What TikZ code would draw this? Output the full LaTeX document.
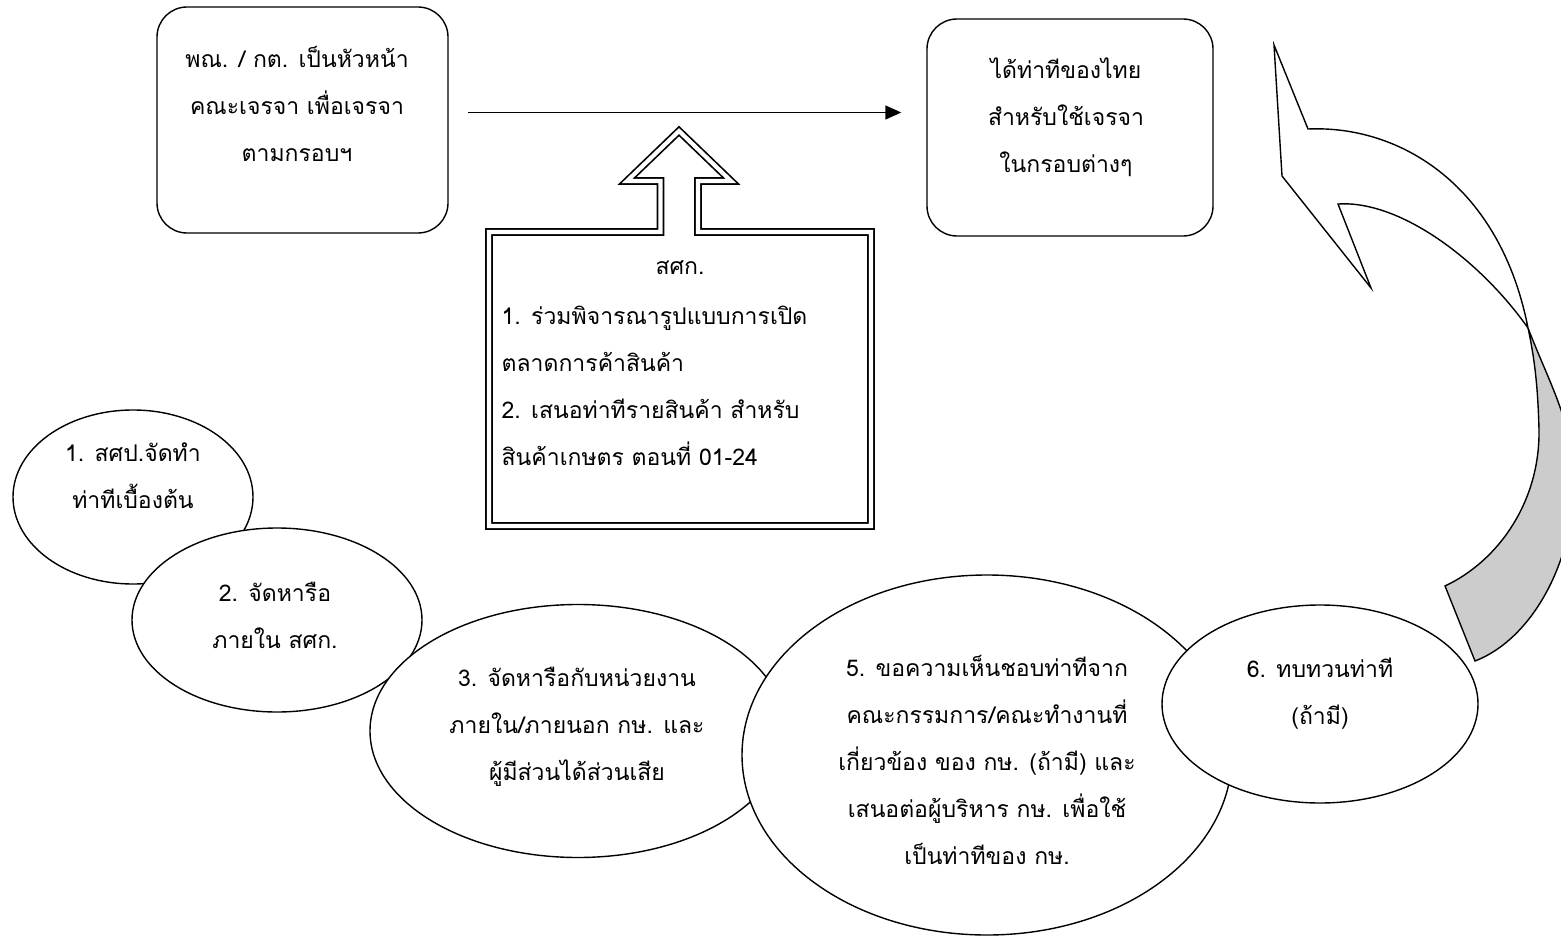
\documentclass[tikz,border=0pt]{standalone}
\usepackage{fontspec}
\newfontfamily\thaifont[Script=Thai]{Loma}
\usetikzlibrary{arrows.meta,shapes.geometric}
\begin{document}
\begin{tikzpicture}[x=1pt,y=-1pt,line width=1.4pt,
  txt/.style={font=\thaifont\fontsize{23}{47}\selectfont,inner sep=0pt,align=center},
  rbox/.style={draw,rounded corners=30pt,inner sep=0pt},
  oval/.style={draw,fill=white,ellipse,inner sep=0pt}]
\useasboundingbox (0,0) rectangle (1561,939);
% top boxes
\node[rbox,minimum width=291pt,minimum height=226pt] (A) at (302.5,120) {};
\node[txt] (At) at (297,104) {พณ. / กต. เป็นหัวหน้า\\คณะเจรจา เพื่อเจรจา\\ตามกรอบฯ};
\node[rbox,minimum width=286pt,minimum height=217pt] (B) at (1070,127.5) {};
\node[txt] (Bt) at (1066,117.5) {ได้ท่าทีของไทย\\สำหรับใช้เจรจา\\ในกรอบต่างๆ};
\coordinate (ly) at (0,112.5);
\draw[-{Triangle[length=16pt,width=14pt]},shorten <=19.5pt,shorten >=25pt] (A.east |- ly) -- (B.west |- ly);
% double box with up arrow
\draw[line width=1.7pt,double=white,double distance=4.2pt,line join=miter]
  (489,232) -- (660.5,232) -- (660.5,181) -- (627,181) -- (679,131) -- (731,181)
  -- (698,181) -- (698,232) -- (871,232) -- (871,526) -- (489,526) -- cycle;
\node[txt] (Ct) at (680,268) {สศก.};
\node[txt,align=left,anchor=west] (Cl) at (501,385.5) {1. ร่วมพิจารณารูปแบบการเปิด\\ตลาดการค้าสินค้า\\2. เสนอท่าทีรายสินค้า สำหรับ\\สินค้าเกษตร ตอนที่ 01-24};
% curved arrow
\begin{scope}
\clip (0,0) rectangle (1561,939);
\draw[fill=white,line join=miter] (1274,45) -- (1308,129) .. controls (1400,125) and (1500,185) .. (1528,328)
  .. controls (1480,260) and (1400,200) .. (1338,204) -- (1371,288) -- (1282,176) -- cycle;
\draw[fill=black!20] (1528,328) .. controls (1550,385) and (1572,420) .. (1574,480)
  .. controls (1574,565) and (1530,640) .. (1475,661) -- (1445,586)
  .. controls (1500,560) and (1540,500) .. (1539,430)
  .. controls (1538,390) and (1535,360) .. (1528,328) -- cycle;
\end{scope}
% ellipses
\node[oval,minimum width=240pt,minimum height=174pt] (E1) at (133,497) {};
\node[txt] (E1t) at (133,476) {1. สศป.จัดทำ\\ท่าทีเบื้องต้น};
\node[oval,minimum width=290pt,minimum height=184pt] (E2) at (277,620) {};
\node[txt] (E2t) at (275,615) {2. จัดหารือ\\ภายใน สศก.};
\node[oval,minimum width=416pt,minimum height=253pt] (E3) at (578,731) {};
\node[txt] (E3t) at (577,727) {3. จัดหารือกับหน่วยงาน\\ภายใน/ภายนอก กษ. และ\\ผู้มีส่วนได้ส่วนเสีย};
\node[oval,minimum width=490pt,minimum height=360pt] (E5) at (987,755) {};
\node[txt] (E5t) at (987,760) {5. ขอความเห็นชอบท่าทีจาก\\คณะกรรมการ/คณะทำงานที่\\เกี่ยวข้อง ของ กษ. (ถ้ามี) และ\\เสนอต่อผู้บริหาร กษ. เพื่อใช้\\เป็นท่าทีของ กษ.};
\node[oval,minimum width=316pt,minimum height=198pt] (E6) at (1320,704) {};
\node[txt] (E6t) at (1320,694) {6. ทบทวนท่าที\\(ถ้ามี)};
\end{tikzpicture}
\end{document}
